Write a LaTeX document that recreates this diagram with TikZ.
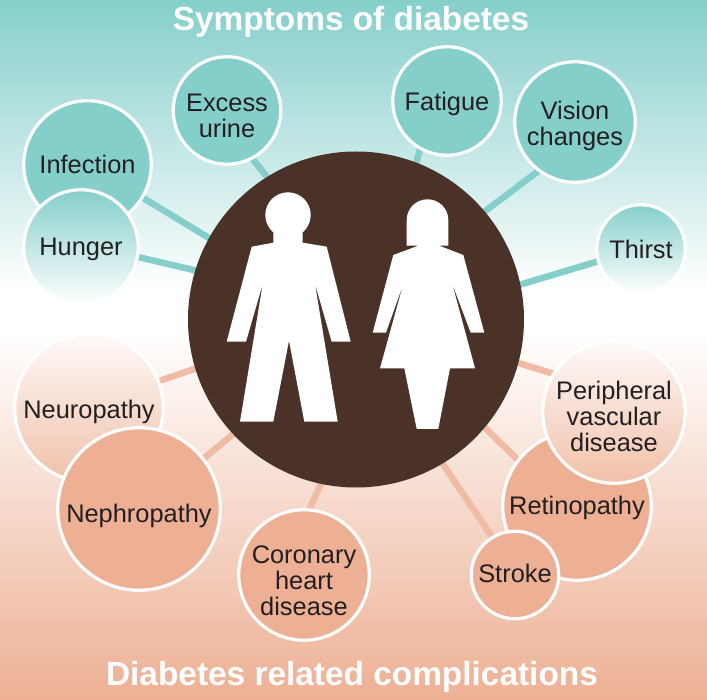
\documentclass[tikz,border=0pt]{standalone}
\usepackage{fontspec}
\setmainfont{Liberation Sans}
\usetikzlibrary{backgrounds}
\definecolor{symptomteal}{HTML}{85CFCB}
\definecolor{complicationpeach}{HTML}{EDB094}
\definecolor{hubbrown}{HTML}{4A3228}
\definecolor{labelink}{HTML}{231F20}
\tikzset{
	bubble/.style={circle, draw=white, line width=3.2pt, inner sep=0pt, text=labelink, align=center, font=\fontsize{25.4}{26}\selectfont},
	symptom/.style={bubble, fill=symptomteal},
	symptomfade/.style={bubble, top color=symptomteal, bottom color=white},
	complication/.style={bubble, fill=complicationpeach},
	complicationfade/.style={bubble, top color=complicationpeach!6, bottom color=complicationpeach!80},
	dropped/.style={text height=#1, inner ysep=-8pt},
	heading/.style={anchor=base, text=white, font=\fontsize{33.4}{36}\selectfont\bfseries},
	symptomlink/.style={draw=symptomteal, line width=6.5pt, shorten <=-3pt, shorten >=-3pt},
	complicationlink/.style={draw=complicationpeach!85, line width=6.5pt, shorten <=-3pt, shorten >=-3pt},
	figureshape/.style={fill=white}
}
\begin{document}
\begin{tikzpicture}[x=1pt,y=-1pt]
	\useasboundingbox (0,0) rectangle (707,700);
	\node[circle, fill=hubbrown, inner sep=0pt, minimum size=336pt] (hub) at (356,319.5) {};
	\node[heading] (symptoms) at (351,30.5) {Symptoms of diabetes};
	\node[heading] (complications) at (352,685) {Diabetes related complications};
	\node[symptom, dropped=54.2pt, minimum size=107.5pt] (excess) at (227,110.5) {Excess\\urine};
	\node[symptom, minimum size=127.5pt] (infection) at (87.5,164.5) {Infection};
	\node[symptomfade, dropped=22.2pt, minimum size=114.5pt] (hunger) at (81,247) {Hunger};
	\node[symptom, dropped=24.5pt, minimum size=108.5pt] (fatigue) at (447,101) {Fatigue};
	\node[symptom, dropped=52.2pt, minimum size=120.5pt] (vision) at (575,122) {Vision\\changes};
	\node[symptomfade, minimum size=88.5pt] (thirst) at (641,249) {Thirst};
	\node[complicationfade, dropped=26.2pt, minimum size=148.5pt] (neuropathy) at (89,408) {Neuropathy};
	\node[complication, dropped=32.5pt, minimum size=162.5pt] (nephropathy) at (139,509) {Nephropathy};
	\node[complication, dropped=80.8pt, minimum size=130.5pt] (coronary) at (304,575) {Coronary\\heart\\disease};
	\node[complication, dropped=22.5pt, minimum size=148.5pt] (retinopathy) at (577,506) {Retinopathy};
	\node[complicationfade, dropped=79.5pt, minimum size=142.5pt] (peripheral) at (614,412) {Peripheral\\vascular\\disease};
	\node[complication, text depth=4pt, minimum size=87.5pt] (stroke) at (515,575) {Stroke};
	\begin{scope}[on background layer]
		\shade[top color=symptomteal, bottom color=white] (0,0) rectangle (707,292);
		\shade[top color=white, bottom color=complicationpeach] (0,330) rectangle (707,700);
		\path[symptomlink]
		(hub.122) edge (excess.-62)
		(hub.151) edge (infection.-31)
		(hub.163) edge (hunger.-10)
		(hub.69) edge (fatigue.-119)
		(hub.40) edge (vision.-127)
		(hub.12) edge (thirst.196);
		\path[complicationlink]
		(hub.197) edge (neuropathy.21)
		(hub.223) edge (nephropathy.38)
		(hub.258) edge (coronary.85)
		(hub.-15) edge (peripheral.148)
		(hub.-40) edge (retinopathy.142)
		(hub.-59) edge (stroke.121);
	\end{scope}
	\fill[figureshape] (288,215) circle (22.7pt);
	\fill[figureshape] (273.3,231.7) -- (273.3,242.7) -- (251.7,246.7) -- (226.7,341.7) -- (246,341.7) -- (262.7,284) -- (240,421.7) -- (273.3,421.7) -- (289,340.7) -- (304.3,421.7) -- (337.7,421.7) -- (315,284) -- (331.7,341.7) -- (350.7,341.7) -- (326.7,246.7) -- (302.7,242.7) -- (302.7,231.7) -- cycle;
	\fill[figureshape] (406.7,245.7) -- (418.3,245.7) -- (393.3,255) -- (372.7,332.7) -- (386,332.7) -- (403.3,284) -- (380,368.3) -- (404.3,368.3) -- (416.7,429) -- (438.3,429) -- (450,368.3) -- (475,368.3) -- (452.3,284) -- (470.7,332.7) -- (484.3,332.7) -- (463.3,255) -- (439.3,245.7) -- (448.3,245.7) -- (448.3,220) .. controls (448.3,208.5) and (439,199.3) .. (427.5,199.3) .. controls (416,199.3) and (406.7,208.5) .. (406.7,220) -- cycle;
\end{tikzpicture}
\end{document}
